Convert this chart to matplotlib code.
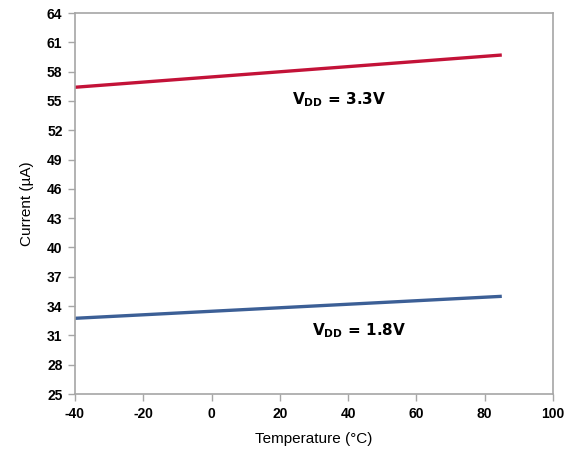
import matplotlib
matplotlib.use('Agg')
import matplotlib.pyplot as plt

# supply current vs temperature, two supply voltages
temp_c = [-40, 85]
i_3v3 = [56.4, 59.7]
i_1v8 = [32.75, 35.0]

x_ticks = [-40, -20, 0, 20, 40, 60, 80, 100]
y_ticks = [25, 28, 31, 34, 37, 40, 43, 46, 49, 52, 55, 58, 61, 64]

plt.rcParams['font.family'] = ['Liberation Sans', 'DejaVu Sans']
plt.rcParams['axes.unicode_minus'] = False

fig = plt.figure(figsize=(5.72, 4.5), dpi=100)
ax = fig.add_axes([0.1311, 0.1244, 0.8357, 0.8467])

ax.plot(temp_c, i_3v3, color='#C31238', linewidth=2.4, solid_capstyle='butt')
ax.plot(temp_c, i_1v8, color='#3C5F96', linewidth=2.4, solid_capstyle='butt')

ax.set_xlim(-40, 100)
ax.set_ylim(25, 64)
ax.set_xticks(x_ticks)
ax.set_yticks(y_ticks)
ax.tick_params(direction='out', length=5, color='#A6A6A6', width=1,
               labelsize=10, pad=4)
for lbl in ax.get_xticklabels() + ax.get_yticklabels():
    lbl.set_fontweight('bold')

for sp in ax.spines.values():
    sp.set_color('#A6A6A6')
    sp.set_linewidth(1.2)

ax.set_xlabel('Temperature (°C)', fontsize=11, labelpad=8)
ax.set_ylabel('Current (µA)', fontsize=11, labelpad=9)

# curve labels
lbl_font = dict(family='DejaVu Sans', fontsize=11, fontweight='heavy')
ax.text(23.5, 55.1, r'V$_{\mathbf{DD}}$ = 3.3V', va='center', ha='left', **lbl_font)
ax.text(29.5, 31.5, r'V$_{\mathbf{DD}}$ = 1.8V', va='center', ha='left', **lbl_font)

fig.savefig('out.png', dpi=100, facecolor='white')
plt.close(fig)
